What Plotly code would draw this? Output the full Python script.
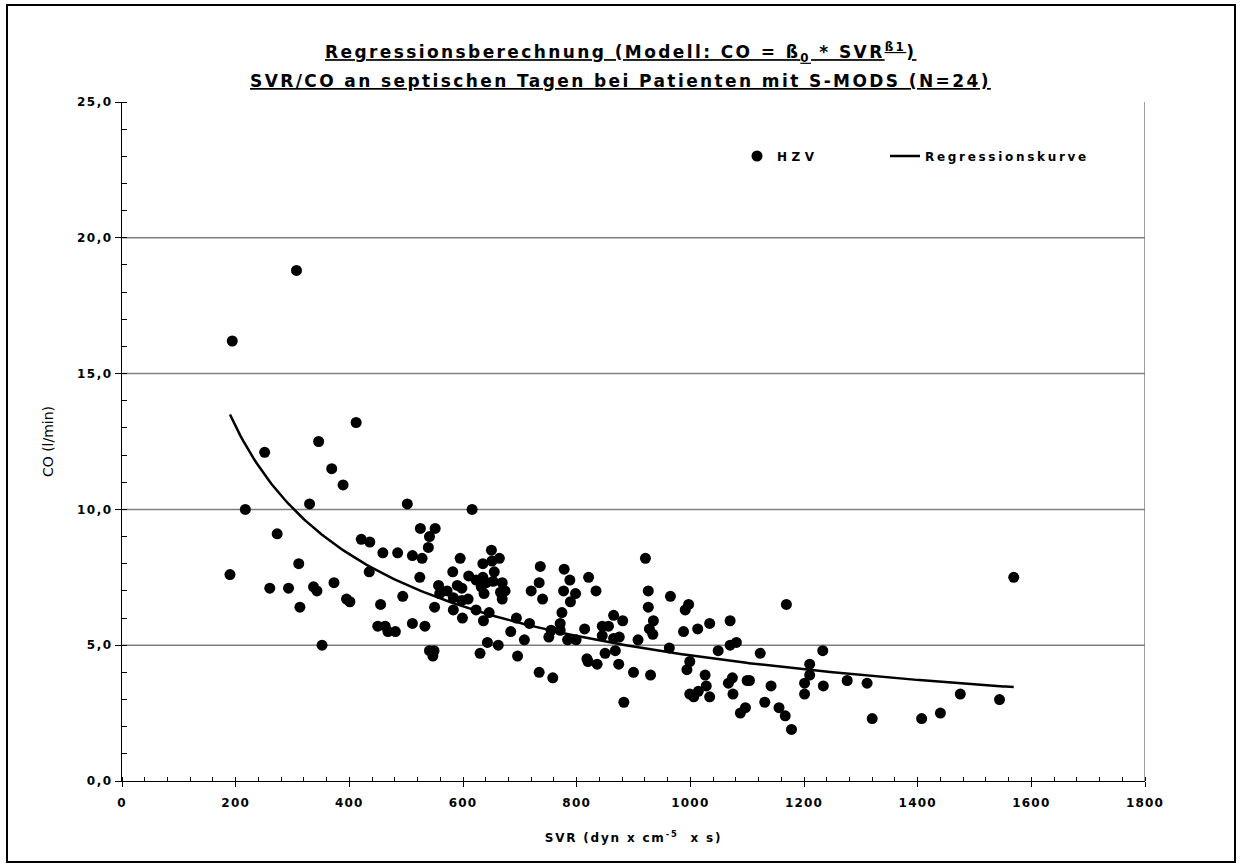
import numpy as np
import plotly.graph_objects as go

# ---- data ----
svr = [190, 194, 217, 251, 260, 273, 293, 307, 311, 313, 330, 337, 343, 346, 352, 369, 373, 389,
       395, 401, 412, 421, 435, 436, 450, 455, 459, 463, 468, 481, 485, 494, 502, 511, 511, 524,
       525, 528, 533, 539, 541, 541, 547, 549, 550, 551, 557, 559, 572, 582, 583, 583, 590, 595,
       598, 598, 599, 610, 609, 616, 623, 623, 630, 632, 635, 635, 636, 637, 641, 643, 646, 650,
       651, 653, 655, 662, 664, 666, 669, 669, 674, 684, 694, 696, 708, 717, 720, 734, 734, 736,
       740, 751, 755, 758, 771, 771, 774, 777, 778, 784, 788, 789, 798, 799, 814, 818, 820, 821,
       834, 836, 845, 845, 850, 856, 865, 865, 868, 874, 875, 881, 883, 900, 908, 921, 926, 926,
       928, 930, 934, 935, 963, 965, 988, 991, 994, 997, 999, 999, 1006, 1013, 1014, 1026, 1028,
       1034, 1034, 1049, 1067, 1070, 1070, 1074, 1075, 1081, 1088, 1097, 1100, 1104, 1123, 1131,
       1142, 1156, 1167, 1169, 1178, 1201, 1201, 1210, 1210, 1233, 1234, 1276, 1311, 1320, 1407,
       1440, 1475, 1544, 1569]
co = [7.6, 16.2, 10.0, 12.1, 7.1, 9.1, 7.1, 18.8, 8.0, 6.4, 10.2, 7.15, 7.0, 12.5, 5.0, 11.5, 7.3, 10.9,
      6.7, 6.6, 13.2, 8.9, 7.7, 8.8, 5.7, 6.5, 8.4, 5.7, 5.5, 5.5, 8.4, 6.8, 10.2, 5.8, 8.3, 7.5,
      9.3, 8.2, 5.7, 8.6, 9.0, 4.8, 4.6, 4.8, 6.4, 9.3, 7.2, 6.9, 7.0, 7.7, 6.75, 6.3, 7.2, 8.2,
      7.1, 6.65, 6.0, 7.55, 6.7, 10.0, 7.4, 6.3, 4.7, 7.15, 8.0, 7.5, 5.9, 6.9, 7.3, 5.1, 6.2, 8.5,
      8.1, 7.35, 7.7, 5.0, 8.2, 6.95, 7.3, 6.7, 7.0, 5.5, 6.0, 4.6, 5.2, 5.8, 7.0, 7.3, 4.0, 7.9,
      6.7, 5.3, 5.55, 3.8, 5.8, 5.55, 6.2, 7.0, 7.8, 5.2, 7.4, 6.6, 6.9, 5.2, 5.6, 4.5, 4.4, 7.5,
      7.0, 4.3, 5.7, 5.35, 4.7, 5.7, 6.1, 5.25, 4.8, 4.3, 5.3, 5.9, 2.9, 4.0, 5.2, 8.2, 7.0, 6.4,
      5.6, 3.9, 5.4, 5.9, 4.9, 6.8, 5.5, 6.3, 4.1, 6.5, 4.4, 3.2, 3.1, 5.6, 3.3, 3.9, 3.5,
      5.8, 3.1, 4.8, 3.6, 5.9, 5.0, 3.8, 3.2, 5.1, 2.5, 2.7, 3.7, 3.7, 4.7, 2.9,
      3.5, 2.7, 2.4, 6.5, 1.9, 3.6, 3.2, 4.3, 3.9, 4.8, 3.5, 3.7, 3.6, 2.3, 2.3,
      2.5, 3.2, 3.0, 7.5]

# regression model CO = beta0 * SVR ** beta1 (parameters)
beta0 = 398.0
beta1 = -0.645

x_range = [0, 1800]
y_range = [0, 25]
x_tick_vals = [0, 200, 400, 600, 800, 1000, 1200, 1400, 1600, 1800]
x_tick_text = ["0", "200", "400", "600", "800", "1000", "1200", "1400", "1600", "1800"]
y_tick_vals = [0, 5, 10, 15, 20, 25]
y_tick_text = ["0,0", "5,0", "10,0", "15,0", "20,0", "25,0"]
grid_vals = [5, 10, 15, 20]

FONT = "DejaVu Sans"
W, H = 1240, 865
L, R, T, B = 122, 95, 102, 84


def spaced(t, px=1.0):
    return f'<span style="letter-spacing:{px}px">{t}</span>'


curve_x = np.linspace(min(svr), max(svr), 300)
curve_y = beta0 * curve_x ** beta1

fig = go.Figure()
fig.add_trace(go.Scatter(
    x=svr, y=co, mode="markers", name=spaced("HZV", 4.5),
    marker=dict(color="black", size=11, symbol="circle", line=dict(width=0)),
    legend="legend",
))
fig.add_trace(go.Scatter(
    x=curve_x, y=curve_y, mode="lines", name=spaced("Regressionskurve", 2.7),
    line=dict(color="black", width=2.5),
    legend="legend2",
))

shapes = []
for g in grid_vals:
    shapes.append(dict(type="line", xref="x", yref="y", x0=x_range[0], x1=x_range[1], y0=g, y1=g,
                       line=dict(color="#7f7f7f", width=1.5), layer="below"))
shapes.append(dict(type="line", xref="x", yref="y", x0=x_range[1], x1=x_range[1], y0=y_range[0], y1=y_range[1],
                   line=dict(color="#7f7f7f", width=1.5), layer="below"))

pw, ph = W - L - R, H - T - B


def px2x(p):
    return (p - L) / pw


def py2y(p):
    return (H - B - p) / ph


# outer chart frame
shapes.append(dict(type="rect", xref="paper", yref="paper",
                   x0=px2x(7), x1=px2x(1235), y0=py2y(862), y1=py2y(5),
                   line=dict(color="black", width=2), fillcolor="rgba(0,0,0,0)", layer="below"))

title_font = dict(family=FONT, size=17, color="black", weight="bold", lineposition="under")
annotations = [
    dict(text=spaced("Regressionsberechnung (Modell: CO = ß<sub>0</sub> * SVR<sup>ß1</sup>)", 2.4),
         xref="paper", yref="paper", x=px2x(620), y=py2y(52), xanchor="center", yanchor="middle",
         showarrow=False, font=title_font),
    dict(text=spaced("SVR/CO an septischen Tagen bei Patienten mit S-MODS (N=24)", 2.4),
         xref="paper", yref="paper", x=px2x(620), y=py2y(81), xanchor="center", yanchor="middle",
         showarrow=False, font=title_font),
]

tick_font = dict(family=FONT, size=12, color="black", weight="bold")
legend_font = dict(family=FONT, size=12, color="black", weight="bold")

fig.update_layout(
    width=W, height=H,
    margin=dict(l=L, r=R, t=T, b=B, autoexpand=False),
    paper_bgcolor="white", plot_bgcolor="white",
    font=dict(family=FONT, color="black"),
    showlegend=True,
    legend=dict(orientation="h", x=px2x(737), y=py2y(156), xanchor="left", yanchor="middle",
                font=legend_font, bgcolor="rgba(0,0,0,0)", borderwidth=0),
    legend2=dict(orientation="h", x=px2x(885), y=py2y(156), xanchor="left", yanchor="middle",
                 font=legend_font, bgcolor="rgba(0,0,0,0)", borderwidth=0),
    shapes=shapes,
    annotations=annotations,
    xaxis=dict(
        range=x_range, tickmode="array", tickvals=x_tick_vals,
        ticktext=[spaced(t, 1.2) for t in x_tick_text],
        showgrid=False, zeroline=False, showline=True, linecolor="black", linewidth=1,
        ticks="outside", ticklen=5, tickcolor="black", tickwidth=1, ticklabelstandoff=6,
        minor=dict(tick0=0, dtick=40, ticks="inside", ticklen=4, tickcolor="black", showgrid=False),
        tickfont=tick_font,
        title=dict(text=spaced("SVR (dyn x cm<sup>-5</sup>  x s)", 1.8),
                   font=dict(family=FONT, size=12, color="black", weight="bold"), standoff=24),
    ),
    yaxis=dict(
        range=y_range, tickmode="array", tickvals=y_tick_vals,
        ticktext=[spaced(t, 1.5) for t in y_tick_text],
        showgrid=False, zeroline=False, showline=True, linecolor="black", linewidth=1,
        ticks="outside", ticklen=6, tickcolor="black", tickwidth=1,
        minor=dict(tick0=0, dtick=1, ticks="inside", ticklen=5, tickcolor="black", showgrid=False),
        tickfont=tick_font,
        title=dict(text="CO (l/min)", font=dict(family=FONT, size=14, color="black"), standoff=20),
    ),
    # overlay axes giving the major ticks their inner half (ticks crossing the axis line)
    xaxis2=dict(range=x_range, overlaying="x", anchor="y", side="bottom", tickmode="array",
                tickvals=x_tick_vals, ticks="inside", ticklen=4, tickcolor="black",
                showticklabels=False, showgrid=False, zeroline=False, showline=False),
    yaxis2=dict(range=y_range, overlaying="y", anchor="x", side="left", tickmode="array",
                tickvals=y_tick_vals, ticks="inside", ticklen=5, tickcolor="black",
                showticklabels=False, showgrid=False, zeroline=False, showline=False),
)

fig.write_html("out.html")
